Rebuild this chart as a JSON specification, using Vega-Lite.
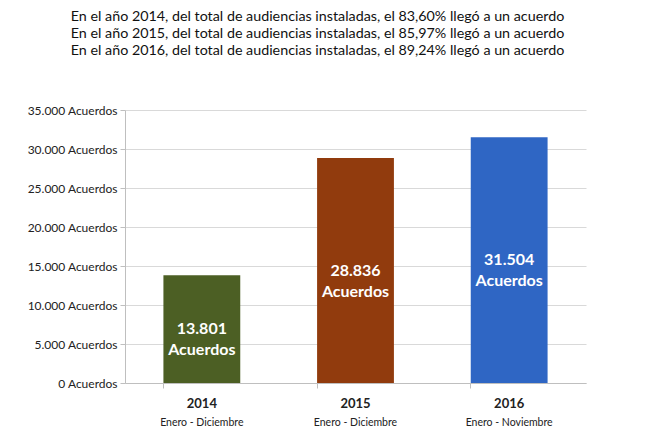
{
  "$schema": "https://vega.github.io/schema/vega-lite/v6.json",
  "autosize": {"type": "none"},
  "width": 461,
  "height": 273,
  "padding": {"left": 125, "top": 110, "right": 62, "bottom": 61},
  "background": "white",
  "title": {
    "text": [
      "En el año 2014, del total de audiencias instaladas, el 83,60% llegó a un acuerdo",
      "En el año 2015, del total de audiencias instaladas, el 85,97% llegó a un acuerdo",
      "En el año 2016, del total de audiencias instaladas, el 89,24% llegó a un acuerdo"
    ],
    "anchor": "middle",
    "frame": "group",
    "dx": -38,
    "offset": 46,
    "font": "Lato",
    "fontSize": 14.3,
    "fontWeight": "normal",
    "lineHeight": 17,
    "color": "#111111"
  },
  "data": {
    "values": [
      {"anio": "2014", "periodo": "Enero - Diciembre", "acuerdos": 13801},
      {"anio": "2015", "periodo": "Enero - Diciembre", "acuerdos": 28836},
      {"anio": "2016", "periodo": "Enero - Noviembre", "acuerdos": 31504}
    ]
  },
  "transform": [
    {"calculate": "datum.acuerdos / 2", "as": "mitad"},
    {"calculate": "[replace(format(datum.acuerdos, ','), ',', '.'), 'Acuerdos']", "as": "etiqueta"}
  ],
  "encoding": {
    "x": {
      "field": "anio",
      "type": "nominal",
      "sort": null,
      "scale": {"paddingInner": 0.5, "paddingOuter": 0.25},
      "axis": {
        "title": null,
        "labelAngle": 0,
        "labelFont": "Lato",
        "labelFontSize": 13,
        "labelFontWeight": "bold",
        "labelColor": "#222222",
        "labelPadding": 9,
        "tickSize": 5,
        "tickColor": "#bfbfbf",
        "domainColor": "#bfbfbf",
        "bandPosition": 0,
        "grid": false
      }
    }
  },
  "layer": [
    {
      "mark": {"type": "bar"},
      "encoding": {
        "y": {
          "field": "acuerdos",
          "type": "quantitative",
          "scale": {"domain": [0, 35000], "nice": false},
          "axis": {
            "title": null,
            "values": [0, 5000, 10000, 15000, 20000, 25000, 30000, 35000],
            "labelExpr": "replace(format(datum.value, ','), ',', '.') + ' Acuerdos'",
            "labelFont": "Lato",
            "labelFontSize": 12,
            "labelColor": "#222222",
            "labelPadding": 3,
            "labelOverlap": false,
            "labelFlush": false,
            "tickSize": 5,
            "tickColor": "#bfbfbf",
            "domainColor": "#bfbfbf",
            "gridColor": "#d9d9d9",
            "grid": true
          }
        },
        "color": {
          "field": "anio",
          "type": "nominal",
          "scale": {"domain": ["2014", "2015", "2016"], "range": ["#4c5f24", "#913b0d", "#2f66c4"]},
          "legend": null
        }
      }
    },
    {
      "mark": {"type": "text", "color": "white", "font": "Lato", "fontSize": 16, "fontWeight": "bold", "lineHeight": 21, "baseline": "middle"},
      "encoding": {
        "y": {
          "field": "mitad",
          "type": "quantitative",
          "axis": {
            "title": null,
            "values": [0, 5000, 10000, 15000, 20000, 25000, 30000, 35000],
            "labelExpr": "replace(format(datum.value, ','), ',', '.') + ' Acuerdos'",
            "labelFont": "Lato",
            "labelFontSize": 12,
            "labelColor": "#222222",
            "labelPadding": 3,
            "labelOverlap": false,
            "labelFlush": false,
            "tickSize": 5,
            "tickColor": "#bfbfbf",
            "domainColor": "#bfbfbf",
            "gridColor": "#d9d9d9",
            "grid": true
          }
        },
        "text": {"field": "etiqueta"}
      }
    },
    {
      "mark": {"type": "text", "color": "#222222", "font": "Lato", "fontSize": 10.5, "baseline": "middle", "dy": 40},
      "encoding": {
        "y": {
          "datum": 0,
          "type": "quantitative",
          "axis": {
            "title": null,
            "values": [0, 5000, 10000, 15000, 20000, 25000, 30000, 35000],
            "labelExpr": "replace(format(datum.value, ','), ',', '.') + ' Acuerdos'",
            "labelFont": "Lato",
            "labelFontSize": 12,
            "labelColor": "#222222",
            "labelPadding": 3,
            "labelOverlap": false,
            "labelFlush": false,
            "tickSize": 5,
            "tickColor": "#bfbfbf",
            "domainColor": "#bfbfbf",
            "gridColor": "#d9d9d9",
            "grid": true
          }
        },
        "text": {"field": "periodo"}
      }
    }
  ],
  "config": {"view": {"stroke": null}}
}
